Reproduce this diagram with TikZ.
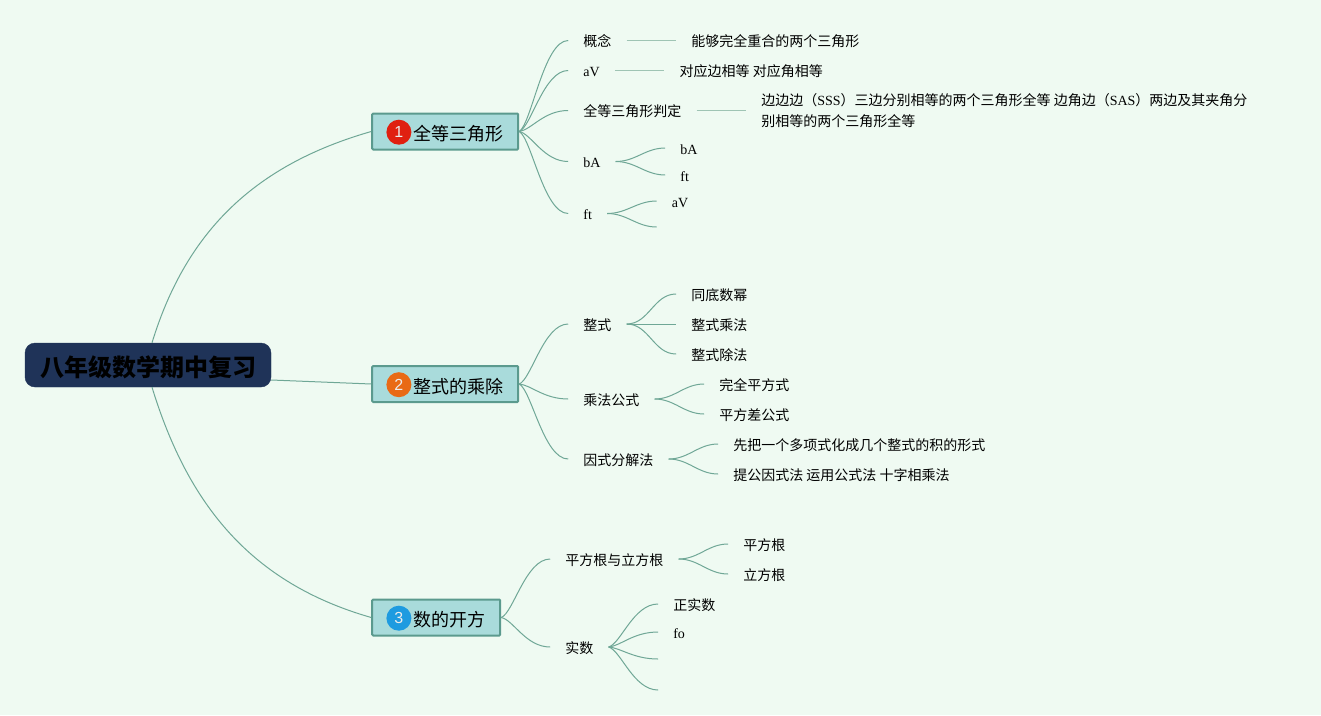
\documentclass[tikz,border=0pt]{standalone}
\usepackage{fontspec}
\setmainfont{Noto Sans CJK SC}
\newfontfamily\latfont{Liberation Serif}
\newfontfamily\badgefont{Liberation Sans}
\usetikzlibrary{positioning,calc}
\definecolor{pagebg}{HTML}{EFFAF2}
\definecolor{rootfill}{HTML}{1F3358}
\definecolor{topicfill}{HTML}{A9DBDB}
\definecolor{topicline}{HTML}{5B9A8E}
\definecolor{linkcol}{HTML}{6FA796}
\definecolor{flatcol}{HTML}{9FC4B4}
\definecolor{badgered}{HTML}{E02010}
\definecolor{badgeorange}{HTML}{E96A15}
\definecolor{badgeblue}{HTML}{1E9BE0}
\newcommand{\lat}[1]{{\latfont #1}}

\begin{document}
\begin{tikzpicture}[
  x=1pt, y=1pt,
  font=\fontsize{14}{21}\selectfont,
  node distance=49.5pt,
  rootbox/.style={fill=rootfill, draw=rootfill, rounded corners=10pt,
                  minimum width=246pt, minimum height=44pt, inner sep=0pt,
                  text height=23pt, text depth=1pt,
                  font=\fontsize{24}{28}\selectfont\bfseries},
  topicbox/.style={draw=topicline, line width=2pt, fill=topicfill,
                   rounded corners=1pt, inner xsep=15pt, inner ysep=0pt,
                   minimum height=36pt, text height=18pt, text depth=0pt,
                   font=\fontsize{18}{22}\selectfont},
  badge/.style={circle, minimum size=25pt, inner sep=0pt, text=white!85!gray,
                yshift=-0.7pt, font=\fontsize{16}{18}\badgefont},
  item/.style={inner xsep=15pt, inner ysep=0pt, text height=13pt, text depth=1pt,
               align=left},
  link/.style={draw=linkcol, line width=1pt},
  flatlink/.style={draw=flatcol, line width=1.8pt},
  branch/.style={to path={let \p1=(\tikztostart), \p2=(\tikztotarget) in
    .. controls ({\x1+0.25*(\x2-\x1)},{\y1+0.08*(\y2-\y1)})
    and ({\x2-0.5*(\x2-\x1)},\y2) .. (\p2) \tikztonodes}},
]
\useasboundingbox (0,0) rectangle (1321,-715);
\fill[pagebg] (0,0) rectangle (1321,-715);

% ---- Root ----
\node[rootbox] (root) at (148,-365) {八年级数学期中复习};

% ---- Topics ----
\node[topicbox, right=100pt of root.east, yshift=233.5pt] (congruent) {\hspace*{26pt}全等三角形};
\node[topicbox, right=100pt of root.east, yshift=-19pt] (product) {\hspace*{26pt}整式的乘除};
\node[topicbox, right=100pt of root.east, yshift=-252.5pt] (roots) {\hspace*{26pt}数的开方};

\node[badge, fill=badgered, right=2pt of congruent.west, xshift=13pt] (badgeA) {1};
\node[badge, fill=badgeorange, right=2pt of product.west, xshift=13pt] (badgeB) {2};
\node[badge, fill=badgeblue, right=2pt of roots.west, xshift=13pt] (badgeC) {3};

% Root links
\draw[link] ([xshift=4pt]root.north) to[out=73,in=196] (congruent.west);
\draw[link] ([yshift=-15pt]root.east) -- (product.west);
\draw[link] ([xshift=4pt]root.south) to[out=-73,in=164] (roots.west);

% ---- Topic 1 ----
\node[item, right=49pt of congruent.east, yshift=91pt] (concept) {概念};
\node[item, right=49pt of congruent.east, yshift=61pt] (avA) {\lat{aV}};
\node[item, right=49pt of congruent.east, yshift=21pt] (judge) {全等三角形判定};
\node[item, right=49pt of congruent.east, yshift=-30pt] (baA) {\lat{bA}};
\node[item, right=49pt of congruent.east, yshift=-82pt] (ftA) {\lat{ft}};

\draw[link] (congruent.east) to[branch] (concept.west);
\draw[link] (congruent.east) to[branch] (avA.west);
\draw[link] (congruent.east) to[branch] (judge.west);
\draw[link] (congruent.east) to[branch] (baA.west);
\draw[link] (congruent.east) to[branch] (ftA.west);

\node[item, right=of concept.east] (conceptText) {能够完全重合的两个三角形};
\node[item, right=of avA.east] (avText) {对应边相等 对应角相等};
\node[right=of judge.east, inner xsep=15pt, inner ysep=0pt, align=left] (judgeText) {边边边（\lat{SSS}）三边分别相等的两个三角形全等 边角边（\lat{SAS}）两边及其夹角分\\别相等的两个三角形全等};
\draw[flatlink] (concept.east) -- (conceptText.west);
\draw[flatlink] (avA.east) -- (avText.west);
\draw[flatlink] (judge.east) -- (judgeText.west);

\node[item, right=of baA.east, yshift=13.5pt] (baLeft) {\lat{bA}};
\node[item, right=of baA.east, yshift=-13.5pt] (baRight) {\lat{ft}};
\draw[link] (baA.east) to[out=0,in=180] (baLeft.west);
\draw[link] (baA.east) to[out=0,in=180] (baRight.west);

\node[item, right=of ftA.east, yshift=12.5pt] (ftLeft) {\lat{aV}};
\coordinate[right=of ftA.east, yshift=-13.5pt] (ftEmpty);
\draw[link] (ftA.east) to[out=0,in=180] (ftLeft.west);
\draw[link] (ftA.east) to[out=0,in=180] (ftEmpty);

% ---- Topic 2 ----
\node[item, right=49pt of product.east, yshift=60pt] (poly) {整式};
\node[item, right=49pt of product.east, yshift=-15pt] (formula) {乘法公式};
\node[item, right=49pt of product.east, yshift=-75pt] (factor) {因式分解法};
\draw[link] (product.east) to[branch] (poly.west);
\draw[link] (product.east) to[branch] (formula.west);
\draw[link] (product.east) to[branch] (factor.west);

\node[item, right=of poly.east, yshift=30pt] (polyA) {同底数幂};
\node[item, right=of poly.east] (polyB) {整式乘法};
\node[item, right=of poly.east, yshift=-30pt] (polyC) {整式除法};
\draw[link] (poly.east) to[out=0,in=180] (polyA.west);
\draw[link] (poly.east) -- (polyB.west);
\draw[link] (poly.east) to[out=0,in=180] (polyC.west);

\node[item, right=of formula.east, yshift=15pt] (formulaA) {完全平方式};
\node[item, right=of formula.east, yshift=-15pt] (formulaB) {平方差公式};
\draw[link] (formula.east) to[out=0,in=180] (formulaA.west);
\draw[link] (formula.east) to[out=0,in=180] (formulaB.west);

\node[item, right=of factor.east, yshift=15pt] (factorA) {先把一个多项式化成几个整式的积的形式};
\node[item, right=of factor.east, yshift=-15pt] (factorB) {提公因式法 运用公式法 十字相乘法};
\draw[link] (factor.east) to[out=0,in=180] (factorA.west);
\draw[link] (factor.east) to[out=0,in=180] (factorB.west);

% ---- Topic 3 ----
\node[item, right=49pt of roots.east, yshift=58.5pt] (rootpair) {平方根与立方根};
\node[item, right=49pt of roots.east, yshift=-29.5pt] (real) {实数};
\draw[link] (roots.east) to[branch] (rootpair.west);
\draw[link] (roots.east) to[branch] (real.west);

\node[item, right=of rootpair.east, yshift=15pt] (square) {平方根};
\node[item, right=of rootpair.east, yshift=-15pt] (cube) {立方根};
\draw[link] (rootpair.east) to[out=0,in=180] (square.west);
\draw[link] (rootpair.east) to[out=0,in=180] (cube.west);

\node[item, right=of real.east, yshift=43pt] (positive) {正实数};
\node[item, right=of real.east, yshift=15pt] (foLeaf) {\lat{fo}};
\coordinate[right=of real.east, yshift=-12pt] (realEmptyA);
\coordinate[right=of real.east, yshift=-43pt] (realEmptyB);
\draw[link] (real.east) to[branch] (positive.west);
\draw[link] (real.east) to[branch] (foLeaf.west);
\draw[link] (real.east) to[branch] (realEmptyA);
\draw[link] (real.east) to[branch] (realEmptyB);

\end{tikzpicture}
\end{document}
